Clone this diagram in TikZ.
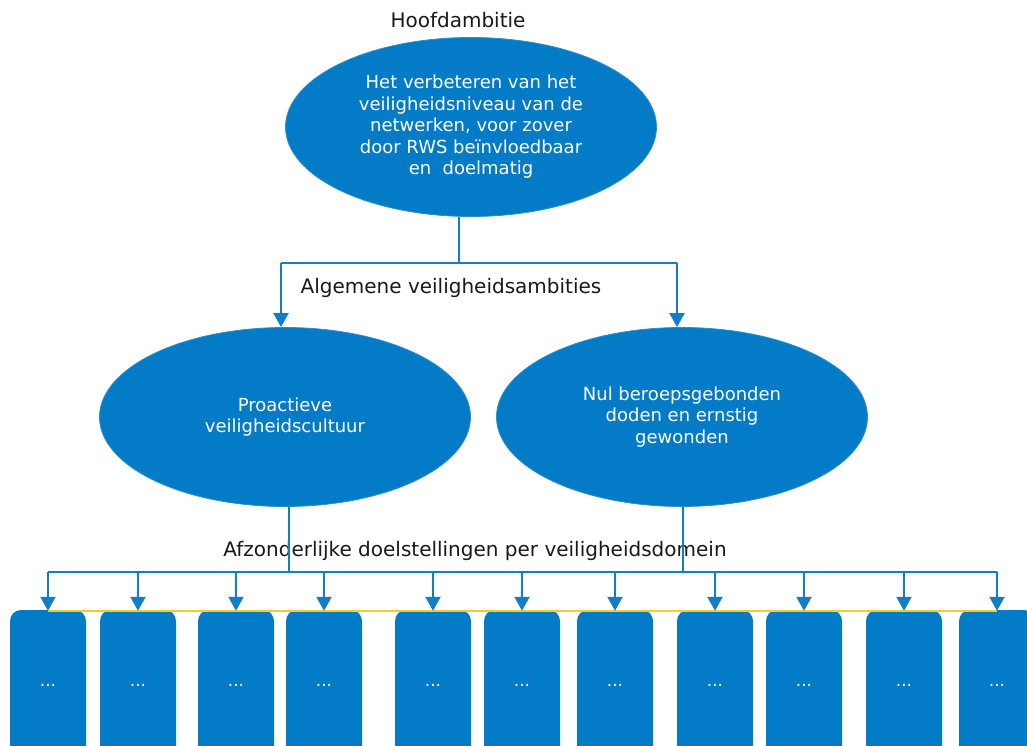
\documentclass[tikz,border=0pt]{standalone}
\usepackage{fontspec}
\setmainfont{DejaVu Sans}
\usetikzlibrary{shapes.geometric,arrows.meta}
\definecolor{rwsblue}{RGB}{3,123,198}
\definecolor{lineblue}{RGB}{18,126,202}
\definecolor{goldline}{RGB}{245,205,40}
\begin{document}
\begin{tikzpicture}[x=1pt,y=-1pt,
  ell/.style={ellipse, fill=rwsblue, draw=rwsblue!85!white, line width=0.8pt,
    minimum width=371pt, minimum height=179pt, inner sep=0pt, text=white,
    align=center, font=\fontsize{18}{21.5}\selectfont},
  lab/.style={text=black!90, font=\fontsize{20}{24}\selectfont, inner sep=0pt},
  conn/.style={draw=lineblue, line width=2pt},
  arr/.style={conn, -{Triangle[width=15pt,length=14pt]}},
  domainbox/.style={rectangle, rounded corners=11pt, fill=rwsblue,
    minimum width=76pt, minimum height=150pt, text=white,
    font=\fontsize{17}{20}\selectfont, inner sep=0pt}]
\clip (0,0) rectangle (1027,746);
\fill[white] (0,0) rectangle (1027,746);

% labels
\node[lab] (hoofd) at (458,20) {Hoofdambitie};
\node[lab] (alg) at (451,288) {Algemene veiligheidsambities};
\node[lab] (afz) at (475,551) {Afzonderlijke doelstellingen per veiligheidsdomein};

% ellipses
\node[ell] (top) at (471,127) {Het verbeteren van het\\veiligheidsniveau van de\\netwerken, voor zover\\door RWS beïnvloedbaar\\en\ \ doelmatig};
\node[ell] (L) at (285,417) {Proactieve\\veiligheidscultuur};
\node[ell] (R) at (682,417) {Nul beroepsgebonden\\doden en ernstig\\gewonden};

% top connectors
\coordinate (aL) at (281,263);
\coordinate (aR) at (677,263);
\coordinate (aS) at (459,263);
\draw[conn] (top.south -| aS) -- (aS);
\draw[conn] (aL) -- (aR);
\draw[arr] (aL) -- (aL |- L.north);
\draw[arr] (aR) -- (aR |- R.north);

% bottom boxes
\foreach \i/\x in {1/48,2/138,3/236,4/324,5/433,6/522,7/615,8/715,9/804,10/904,11/997}{
  \node[domainbox] (b\i) at (\x,685) {...};
}
\draw[goldline, line width=1.5pt] ([yshift=-1pt]b1.north) -- ([yshift=-1pt]b11.north);

% bottom connectors
\coordinate (sL) at (289,572);
\coordinate (sR) at (683,572);
\draw[conn] (L.south -| sL) -- (sL);
\draw[conn] (R.south -| sR) -- (sR);
\coordinate (bus1) at (48,572);
\coordinate (bus2) at (997,572);
\draw[conn] (bus1) -- (bus2);
\foreach \i in {1,...,11}{
  \draw[arr] (b\i.north |- bus1) -- ([yshift=-1pt]b\i.north);
}
\end{tikzpicture}
\end{document}
